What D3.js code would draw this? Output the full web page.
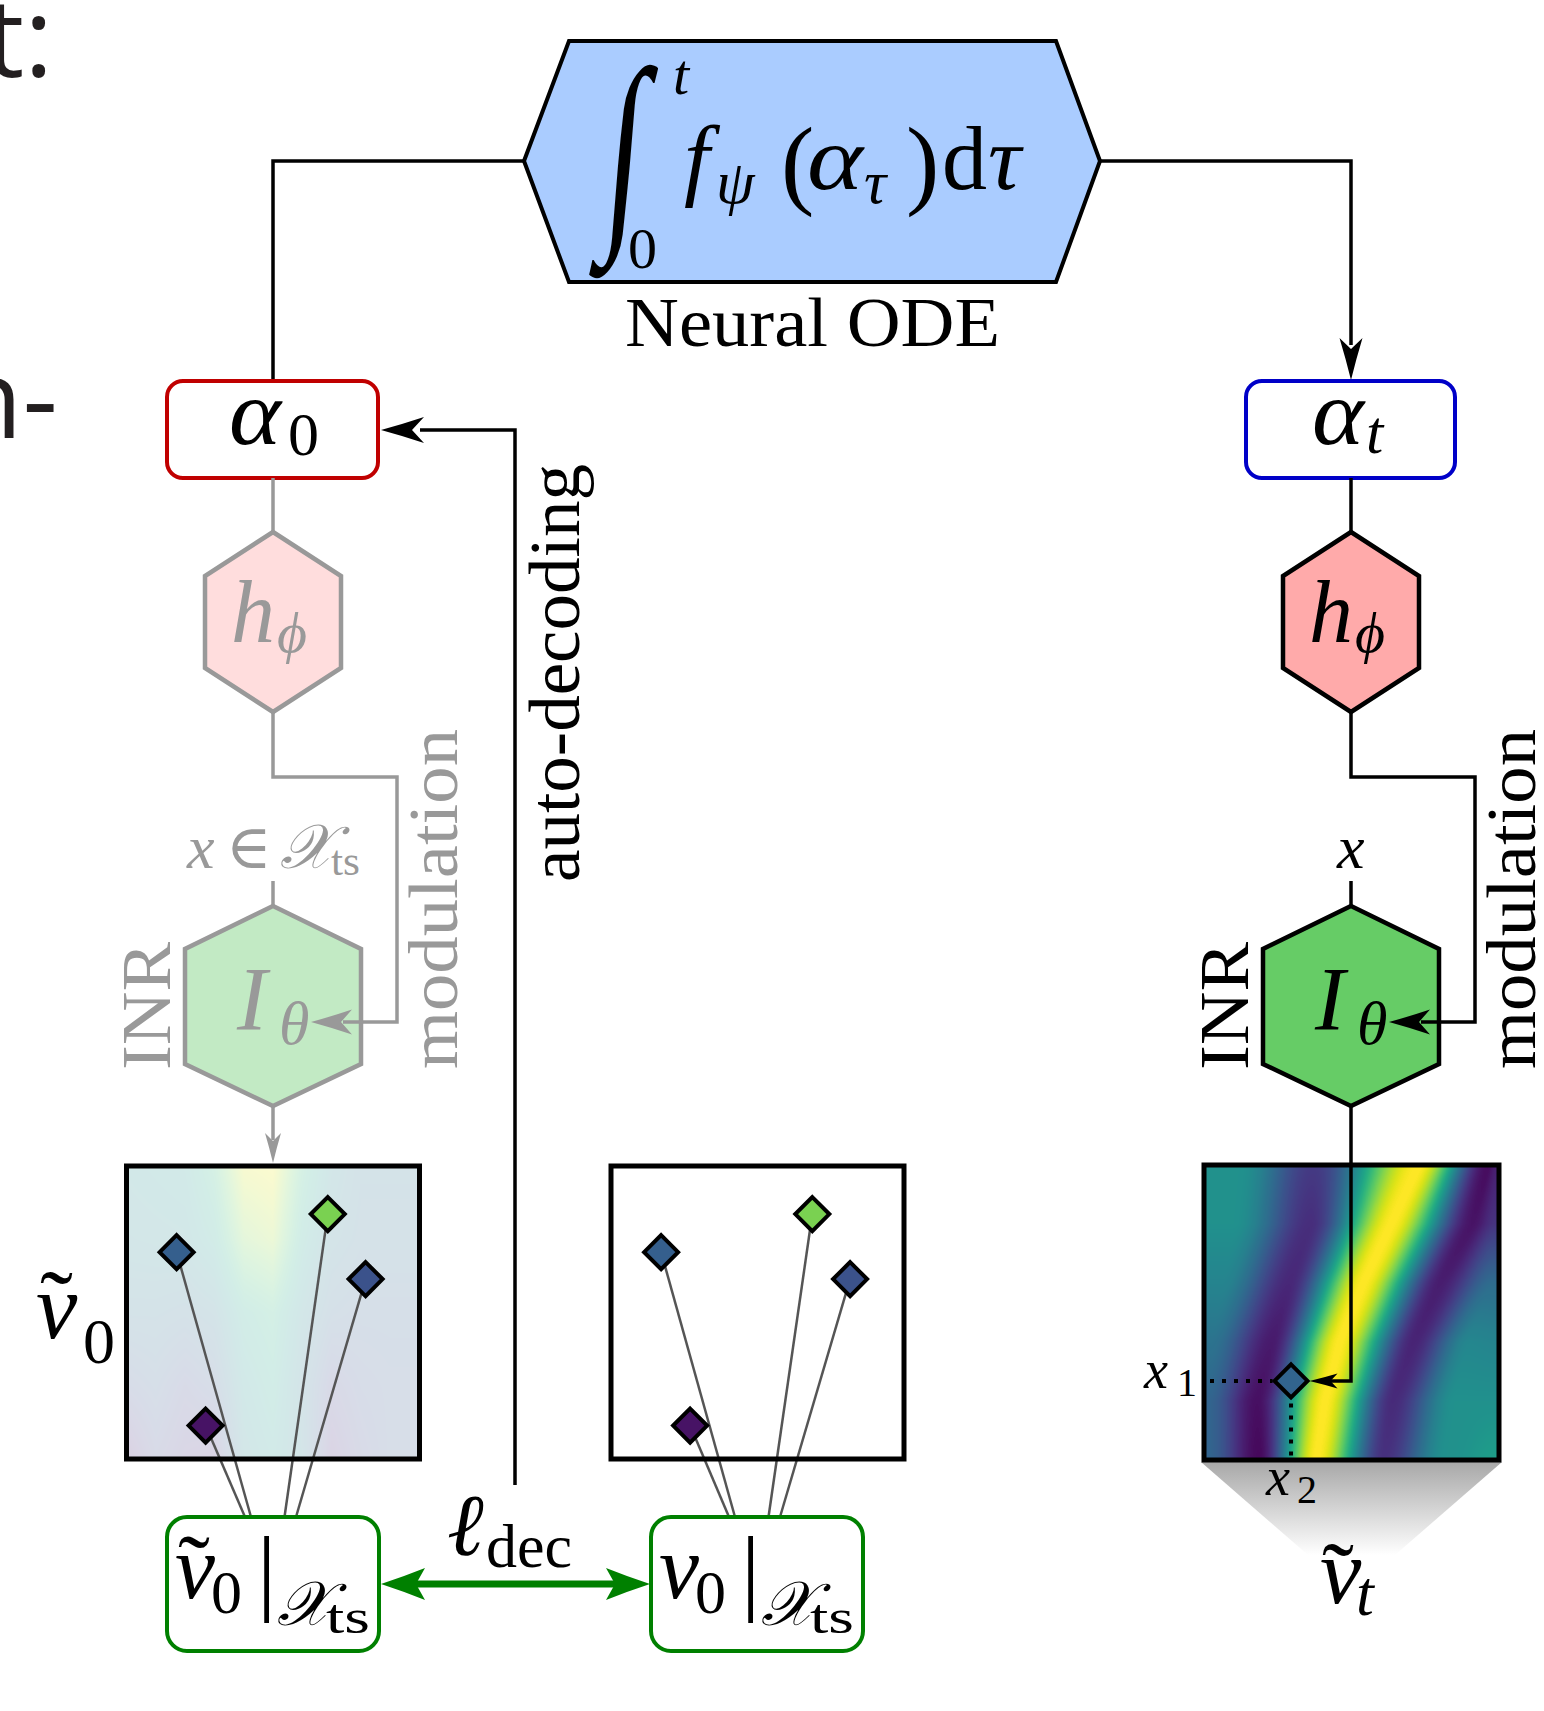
<!DOCTYPE html>
<html><head><meta charset="utf-8">
<script src="https://cdn.jsdelivr.net/npm/d3@7"></script>
<style>body{margin:0;background:#fff;overflow:hidden}</style>
</head><body>
<svg id="c" width="1544" height="1711"></svg>
<script>
// ---------------- data ----------------
// decoded field at time t (right panel): per sampled row, knots (u position, viridis value)
// knots: left edge, left plateau, left trough, bright ridge, right trough, right plateau, right edge
const fieldTRowV = [0, .2, .4, .6, .8, 1];
const fieldTKnotU = [
  [0, .12, .37, .73, .965, .99, 1],
  [0, .10, .36, .635, .91, .99, 1],
  [0, .06, .29, .54, .80, .98, 1],
  [0, .02, .23, .46, .71, .90, 1],
  [0, .01, .18, .41, .64, .85, 1],
  [0, .01, .185, .38, .61, .82, 1]
];
const fieldTKnotVal = [
  [.50, .50, .17, 1.0, .03, .08, .10],
  [.50, .50, .13, 1.0, .05, .15, .16],
  [.45, .45, .11, 1.0, .08, .35, .35],
  [.38, .38, .07, 1.0, .10, .46, .45],
  [.32, .32, .04, 1.0, .12, .50, .50],
  [.32, .32, .02, 1.0, .14, .50, .56]
];
// initial decoded field (left panel, shown faded): grid of viridis values
const field0U = [0,.1,.2,.3,.4,.5,.6,.7,.8,.9,1];
const field0V = [0,.25,.5,.75,1];
const field0 = [
  [.48,.50,.52,.66,.94,.97,.66,.46,.38,.38,.38],
  [.45,.46,.47,.56,.80,.86,.57,.41,.36,.36,.36],
  [.38,.38,.36,.40,.58,.64,.46,.33,.30,.30,.30],
  [.25,.30,.22,.28,.50,.58,.40,.20,.26,.28,.28],
  [.08,.22,.15,.12,.45,.52,.42,.12,.22,.28,.28]
];
// observation points X_ts (relative position inside the frame, value)
const obsU = [0.171, 0.687, 0.816, 0.270];
const obsV = [0.294, 0.164, 0.386, 0.886];
const obsVal = [0.30, 0.80, 0.25, 0.05];
const obsFoot = [84, 117.5, 129, 78];   // where each link meets the box (offset from box left)
// query point on v_t
const queryU = [0.295], queryV = [0.732], queryVal = [0.32];

(function () {
// ---------------- setup ----------------
const svg = d3.select('#c');
const serif = "'Liberation Serif','DejaVu Serif',serif";
const sans = "'Open Sans',sans-serif";
const GREY = '#999999';
const viridis = d3.scaleSequential(d3.interpolateViridis).domain([0,1]);
const defs = svg.append('defs');

function txt(g, x, y, s, size, o = {}) {
  const t = g.append('text').attr('x', x).attr('y', y)
    .attr('font-family', o.family || serif).attr('font-size', size)
    .attr('fill', o.fill || '#000').text(s);
  if (o.italic) t.attr('font-style', 'italic');
  if (o.anchor) t.attr('text-anchor', o.anchor);
  if (o.len) t.attr('textLength', o.len).attr('lengthAdjust', 'spacingAndGlyphs');
  if (o.tr) t.attr('transform', o.tr);
  return t;
}
// a formula = one text element with absolutely placed tspans
function formula(g, parts, fill) {
  const t = g.append('text').attr('font-family', serif).attr('fill', fill || '#000');
  parts.forEach(p => {
    const s = t.append('tspan').attr('x', p[1]).attr('y', p[2]).attr('font-size', p[3]).text(p[0]);
    if (p[4]) s.attr('font-style', 'italic');
    if (p[5]) s.attr('textLength', p[5]).attr('lengthAdjust', 'spacingAndGlyphs');
  });
  return t;
}
function poly(g, pts, fill, stroke, sw) {
  return g.append('polygon').attr('points', pts.map(p => p.join(',')).join(' '))
    .attr('fill', fill).attr('stroke', stroke).attr('stroke-width', sw).attr('stroke-linejoin', 'miter');
}
const line = d3.line();
function path(g, pts, stroke, sw, dash) {
  const p = g.append('path').attr('d', line(pts)).attr('fill', 'none')
    .attr('stroke', stroke).attr('stroke-width', sw).attr('stroke-linejoin', 'miter');
  if (dash) p.attr('stroke-dasharray', dash);
  return p;
}
function head(g, x, y, dir, L, Wd, N, color) {
  const d = `M0,0 Q${-L*0.5},${-Wd*0.45} ${-L},${-Wd} L${-L+N},0 L${-L},${Wd} Q${-L*0.5},${Wd*0.45} 0,0 Z`;
  g.append('path').attr('d', d).attr('fill', color)
    .attr('transform', `translate(${x},${y}) rotate(${dir})`);
}
function hexV(cx, t, b, halfW, side1, side2) {
  return [[cx, t], [cx + halfW, side1], [cx + halfW, side2], [cx, b], [cx - halfW, side2], [cx - halfW, side1]];
}
function rasterImage(g, fr, opacity, valueAt) {
  const w = Math.round(fr.w), h = Math.round(fr.h);
  const cv = document.createElement('canvas'); cv.width = w; cv.height = h;
  const ctx = cv.getContext('2d'); const im = ctx.createImageData(w, h);
  for (let py = 0; py < h; py++) {
    const v = (py + 0.5) / h;
    const rowFn = valueAt(v);
    for (let px = 0; px < w; px++) {
      const c = d3.rgb(viridis(rowFn((px + 0.5) / w)));
      const k = 4 * (py * w + px);
      im.data[k] = c.r; im.data[k + 1] = c.g; im.data[k + 2] = c.b; im.data[k + 3] = 255;
    }
  }
  ctx.putImageData(im, 0, 0);
  g.append('image').attr('href', cv.toDataURL()).attr('x', fr.x).attr('y', fr.y)
    .attr('width', fr.w).attr('height', fr.h).attr('preserveAspectRatio', 'none')
    .attr('opacity', opacity);
}
// grid (bilinear) field
function gridField(values, us, vs) {
  return v => {
    const j = Math.max(0, Math.min(vs.length - 2, d3.bisectRight(vs, v) - 1));
    const tv = (v - vs[j]) / (vs[j + 1] - vs[j]);
    return u => {
      const i = Math.max(0, Math.min(us.length - 2, d3.bisectRight(us, u) - 1));
      const tu = (u - us[i]) / (us[i + 1] - us[i]);
      return (1 - tv) * ((1 - tu) * values[j][i] + tu * values[j][i + 1]) +
             tv * ((1 - tu) * values[j + 1][i] + tu * values[j + 1][i + 1]);
    };
  };
}
// knot field: knots morph between sampled rows, smooth (cosine) profile between knots
function knotField(rowV, knotU, knotVal) {
  return v => {
    const j = Math.max(0, Math.min(rowV.length - 2, d3.bisectRight(rowV, v) - 1));
    const t = (v - rowV[j]) / (rowV[j + 1] - rowV[j]);
    const ku = knotU[j].map((a, k) => a + (knotU[j + 1][k] - a) * t);
    const kv = knotVal[j].map((a, k) => a + (knotVal[j + 1][k] - a) * t);
    return u => {
      const k = Math.max(0, Math.min(ku.length - 2, d3.bisectRight(ku, u) - 1));
      const s = Math.max(0, Math.min(1, (u - ku[k]) / (ku[k + 1] - ku[k])));
      const e = (1 - Math.cos(Math.PI * s)) / 2;
      return kv[k] + (kv[k + 1] - kv[k]) * e;
    };
  };
}

// ---------------- slide fragments ----------------
const frag = svg.append('g');
txt(frag, -15, 77, 't:', 110, {family: sans, fill: '#231f20'});
txt(frag, -45, 438, 'n-', 110, {family: sans, fill: '#231f20'});

// ---------------- Neural ODE ----------------
const odeG = svg.append('g');
path(odeG, [[524,161],[273,161],[273,381]], '#000', 3.5);
path(odeG, [[1100,161],[1351,161],[1351,345]], '#000', 3.5);
head(odeG, 1351, 380, 90, 42, 11.5, 11, '#000');
poly(odeG, [[524,161],[569,41],[1056,41],[1100,161],[1056,282],[569,282]], '#aaccff', '#000', 4);
odeG.append('text').attr('font-family', "'Liberation Serif',serif").attr('font-size', 150)
  .attr('transform', 'translate(601,220) scale(0.9,1.45) skewX(-8)').text('∫');
formula(odeG, [
  ['t', 673, 94, 58, true],
  ['0', 628, 268, 58],
  ['f', 684, 189, 92, true],
  ['ψ', 716, 203, 62, true],
  ['(', 781, 196, 100],
  ['α', 807, 189, 92, true, 56],
  ['τ', 864, 203, 62, true],
  [')', 906, 196, 100],
  ['d', 942, 189, 90],
  ['τ', 988, 189, 92, true]
]);
txt(odeG, 625, 346, 'Neural ODE', 70, {len: 375});

// ---------------- latent boxes ----------------
const lat = svg.append('g');
lat.append('rect').attr('x', 167).attr('y', 381).attr('width', 211).attr('height', 97).attr('rx', 16)
  .attr('fill', '#fff').attr('stroke', '#c00000').attr('stroke-width', 4);
lat.append('rect').attr('x', 1246).attr('y', 381).attr('width', 209).attr('height', 97).attr('rx', 16)
  .attr('fill', '#fff').attr('stroke', '#0000c8').attr('stroke-width', 4);
formula(lat, [['α', 229, 444, 93, true, 52], ['0', 288, 455, 62]]);
formula(lat, [['α', 1312, 444, 93, true, 52], ['t', 1366, 453, 62, true]]);

// ---------------- auto-decoding ----------------
const ad = svg.append('g');
path(ad, [[515,1485],[515,430],[420,430]], '#000', 3.5);
head(ad, 381, 430, 180, 43, 13, 12, '#000');
txt(ad, 0, 0, 'auto-decoding', 72, {len: 418, tr: 'translate(579,882) rotate(-90)'});

// ---------------- decoder branches ----------------
function branch(cx, stroke, hFill, iFill, faded) {
  const g = svg.append('g');
  const col = faded ? GREY : '#000';
  path(g, [[cx,478],[cx,532]], stroke, 3.5);
  path(g, [[cx,712],[cx,777],[cx+124,777],[cx+124,1022],[cx+80,1022]], stroke, 3.5);
  path(g, [[cx,881],[cx,906]], stroke, 3.5);
  poly(g, hexV(cx, 532, 712, 68, 576, 668), hFill, stroke, 4.5);
  poly(g, hexV(cx, 906, 1106, 88, 949, 1064), iFill, stroke, 4.5);
  path(g, [[cx+90,1022],[cx+70,1022]], stroke, 3.5);
  head(g, cx + 38, 1022, 180, 41, 12.5, 11, stroke);
  formula(g, [['h', cx - 42, 642, 88, true], ['ϕ', cx + 4, 652, 58, true]], col);
  formula(g, [['I', cx - 36, 1030, 90, true], ['θ', cx + 6, 1044, 62, true]], col);
  txt(g, 0, 0, 'INR', 70, {fill: col, len: 128, tr: `translate(${cx - 103},1070) rotate(-90)`});
  txt(g, 0, 0, 'modulation', 70, {fill: col, len: 340, tr: `translate(${cx + 184},1069) rotate(-90)`});
  return g;
}
const gl = branch(273, GREY, '#ffdddd', '#c2eac4', true);
const gr = branch(1351, '#000', '#ffaaaa', '#66cc66', false);
formula(gl, [['x', 187, 868, 62, true], ['∈', 226, 868, 62], ['𝒳', 280, 868, 62, true], ['ts', 331, 875, 42, false, 29]], GREY);
formula(gr, [['x', 1337, 868, 62, true]]);
path(gl, [[273,1106],[273,1140]], GREY, 3.5);
head(gl, 273, 1163, 90, 30, 8, 8, GREY);

// ---------------- frames ----------------
const frL = {x: 126.5, y: 1166, w: 293, h: 293};
const frM = {x: 611, y: 1166, w: 293, h: 293};
const frR = {x: 1204, y: 1165, w: 295, h: 295};
const fr = svg.append('g');

const grad = defs.append('linearGradient').attr('id', 'sh').attr('x1', 0).attr('y1', 0).attr('x2', 0).attr('y2', 1);
grad.append('stop').attr('offset', 0).attr('stop-color', '#a8a8a8');
grad.append('stop').attr('offset', 1).attr('stop-color', '#ffffff');
poly(fr, [[1201,1462],[1502,1462],[1395,1555],[1308,1555]], 'url(#sh)', 'none', 0);

fr.append('rect').attr('x', frL.x).attr('y', frL.y).attr('width', frL.w).attr('height', frL.h).attr('fill', '#fff');
rasterImage(fr, frL, 0.2, gridField(field0, field0U, field0V));
rasterImage(fr, frR, 1, knotField(fieldTRowV, fieldTKnotU, fieldTKnotVal));
fr.append('rect').attr('x', frM.x).attr('y', frM.y).attr('width', frM.w).attr('height', frM.h).attr('fill', '#fff');

function observations(frm, boxX) {
  const sx = d3.scaleLinear().domain([0,1]).range([frm.x, frm.x + frm.w]);
  const sy = d3.scaleLinear().domain([0,1]).range([frm.y, frm.y + frm.h]);
  const g = svg.append('g');
  obsU.forEach((u, i) => {
    g.append('line').attr('x1', sx(u)).attr('y1', sy(obsV[i])).attr('x2', boxX + obsFoot[i]).attr('y2', 1517)
      .attr('stroke', '#555').attr('stroke-width', 2.5);
  });
  g.append('rect').attr('x', frm.x).attr('y', frm.y).attr('width', frm.w).attr('height', frm.h)
    .attr('fill', 'none').attr('stroke', '#000').attr('stroke-width', 5);
  obsU.forEach((u, i) => {
    const x = sx(u), y = sy(obsV[i]), r = 17;
    g.append('path').attr('d', `M${x},${y-r} L${x+r},${y} L${x},${y+r} L${x-r},${y} Z`)
      .attr('fill', viridis(obsVal[i])).attr('stroke', '#000').attr('stroke-width', 4).attr('stroke-linejoin', 'miter');
  });
}
observations(frL, 167);
observations(frM, 651);

{
  const g = svg.append('g');
  const sx = d3.scaleLinear().domain([0,1]).range([frR.x, frR.x + frR.w]);
  const sy = d3.scaleLinear().domain([0,1]).range([frR.y, frR.y + frR.h]);
  const qx = sx(queryU[0]), qy = sy(queryV[0]), r = 16.5;
  g.append('rect').attr('x', frR.x).attr('y', frR.y).attr('width', frR.w).attr('height', frR.h)
    .attr('fill', 'none').attr('stroke', '#000').attr('stroke-width', 5);
  path(g, [[1351,1106],[1351,qy],[qx + r + 22,qy]], '#000', 3.5);
  head(g, qx + r + 2, qy, 180, 28, 7.5, 7, '#000');
  path(g, [[frR.x + 6, qy],[qx - r - 2, qy]], '#000', 4, '4,8');
  path(g, [[qx, qy + r + 6],[qx, frR.y + frR.h - 2]], '#000', 4, '4,8');
  g.append('path').attr('d', `M${qx},${qy-r} L${qx+r},${qy} L${qx},${qy+r} L${qx-r},${qy} Z`)
    .attr('fill', viridis(queryVal[0])).attr('stroke', '#000').attr('stroke-width', 4);
  formula(g, [['x', 1144, 1388, 54, true], ['1', 1177, 1396, 40]]);
  formula(g, [['x', 1266, 1495, 54, true], ['2', 1297, 1503, 40]]);
  formula(g, [['˜', 1322, 1608, 96, false, 32], ['v', 1320, 1603, 93, true], ['t', 1356, 1615, 64, true]]);
}
formula(svg, [['˜', 40, 1336, 96, false, 33], ['v', 36, 1338, 93, true], ['0', 83, 1363, 64]]);

// ---------------- bottom boxes and loss ----------------
const bot = svg.append('g');
function evalBox(x, tilde) {
  bot.append('rect').attr('x', x).attr('y', 1517).attr('width', 212).attr('height', 134).attr('rx', 20)
    .attr('fill', '#fff').attr('stroke', '#008000').attr('stroke-width', 4);
  const parts = [];
  if (tilde) parts.push(['˜', x + 11, 1598, 92, false, 32]);
  parts.push(['v', x + 8, 1598, 90, true], ['0', x + 44, 1613, 62], ['|', x + 90, 1603, 96],
             ['𝒳', x + 110, 1625, 62, true], ['ts', x + 159, 1633, 48, false, 44]);
  formula(bot, parts);
}
evalBox(167, true);
evalBox(651, false);
path(bot, [[410,1584],[620,1584]], '#008000', 7);
head(bot, 381, 1584, 180, 44, 16, 9, '#008000');
head(bot, 650, 1584, 0, 44, 16, 9, '#008000');
formula(bot, [['ℓ', 447, 1555, 88, true], ['dec', 486, 1567, 62]]);
})();
</script>
</body></html>
